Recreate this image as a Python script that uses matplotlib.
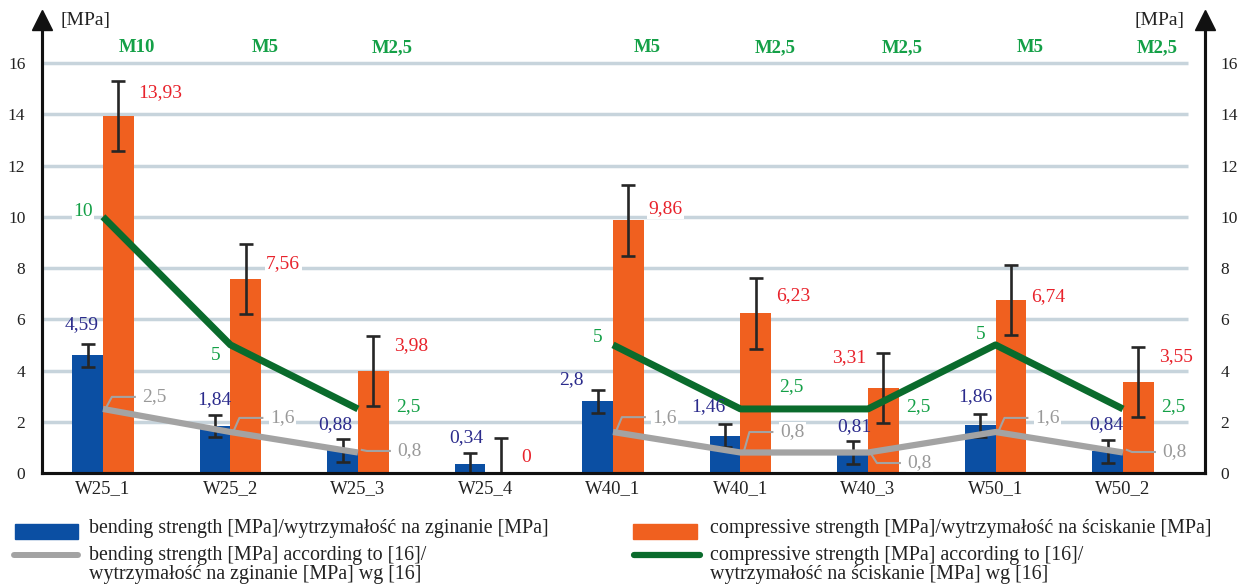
import numpy as np
import matplotlib.pyplot as plt
from matplotlib.patches import Rectangle
from matplotlib.lines import Line2D

plt.rcParams['font.family'] = ['Liberation Serif', 'DejaVu Serif']

# Data
samples = ['W25_1', 'W25_2', 'W25_3', 'W25_4', 'W40_1', 'W40_1', 'W40_3', 'W50_1', 'W50_2']
bending = [4.59, 1.84, 0.88, 0.34, 2.8, 1.46, 0.81, 1.86, 0.84]
bending_err = [0.45, 0.42, 0.45, 0.44, 0.44, 0.44, 0.44, 0.44, 0.44]
compressive = [13.93, 7.56, 3.98, 0, 9.86, 6.23, 3.31, 6.74, 3.55]
compressive_err = [1.37, 1.37, 1.35, 1.37, 1.38, 1.38, 1.37, 1.37, 1.35]
bending_norm = [2.5, 1.6, 0.8, np.nan, 1.6, 0.8, 0.8, 1.6, 0.8]
compressive_norm = [10, 5, 2.5, np.nan, 5, 2.5, 2.5, 5, 2.5]
mortar_class = ['M10', 'M5', 'M2,5', '', 'M5', 'M2,5', 'M2,5', 'M5', 'M2,5']

# label placement tweaks (offsets in MPa / category units)
blue_dx = [-0.165, -0.13, -0.18, -0.15, -0.33, -0.25, -0.11, -0.16, -0.13]
blue_dy = [0.74, 0.59, 0.54, 0.62, 0.39, 0.7, 0.55, 0.67, 0.62]
red_dy = [0.9, 0.6, 1.0, 0.62, 0.44, 0.68, 1.2, 0.13, 1.0]
gray_dy = [0.47, 0.55, 0.06, 0, 0.58, 0.8, -0.41, 0.55, 0.02]
green_dy = [0.2, -0.4, 0.1, 0, 0.27, 0.86, 0.08, 0.39, 0.1]
green_side = ['l', 'l', 'r', '', 'l', 'r', 'r', 'l', 'r']

blue = '#0b4fa3'
orange = '#f0601f'
dgreen = '#0a6b2c'
lgreen = '#14a047'
gray = '#a3a3a3'
navy = '#2b2b8c'
red = '#e8222b'
ink = '#222222'

def fmt(v):
    return f'{v:g}'.replace('.', ',')

x = np.arange(len(samples))
w = 0.24

fig = plt.figure(figsize=(12.41, 5.84), dpi=100)
ax = fig.add_axes([42 / 1241, 111 / 584, 1163 / 1241, 453 / 584])

# grid lines
for t in range(2, 17, 2):
    ax.hlines(t, -0.48, 8.51, color='#c7d4dc', lw=2.5, zorder=0)

ax.bar(x - w / 2, bending, w, color=blue, zorder=2)
ax.bar(x + w / 2, compressive, w, color=orange, zorder=2)

b_lo = [min(e, v) for e, v in zip(bending_err, bending)]
c_lo = [min(e, v) for e, v in zip(compressive_err, compressive)]
ax.errorbar(x - w / 2, bending, yerr=[b_lo, bending_err], fmt='none',
            ecolor='#262626', elinewidth=1.9, capsize=5, capthick=1.9, zorder=3)
ax.errorbar(x + w / 2, compressive, yerr=[c_lo, compressive_err], fmt='none',
            ecolor='#262626', elinewidth=1.9, capsize=5, capthick=1.9, zorder=3)

ax.plot(x, bending_norm, color=gray, lw=4.5, zorder=4, solid_capstyle='butt')
ax.plot(x, compressive_norm, color=dgreen, lw=5, zorder=4, solid_capstyle='butt')

box = dict(facecolor='white', edgecolor='none', pad=1)
fs = 14
for i in range(len(samples)):
    ax.text(x[i] + blue_dx[i], bending[i] + bending_err[i] + blue_dy[i], fmt(bending[i]),
            color=navy, fontsize=fs, ha='center', va='center', zorder=6)
    if i == 6:
        ax.text(x[i] - 0.01, compressive[i] + red_dy[i], fmt(compressive[i]),
                color=red, fontsize=fs, ha='right', va='center', bbox=box, zorder=6)
    else:
        ax.text(x[i] + w + 0.04, compressive[i] + red_dy[i], fmt(compressive[i]),
                color=red, fontsize=fs, ha='left', va='center', bbox=box, zorder=6)
    if not np.isnan(bending_norm[i]):
        yl = bending_norm[i] + gray_dy[i]
        ax.plot([x[i] + 0.03, x[i] + 0.07, x[i] + 0.25],
                [bending_norm[i] + np.sign(gray_dy[i]) * 0.1, yl, yl],
                color=gray, lw=1.5, zorder=5)
        ax.text(x[i] + 0.31, yl, fmt(bending_norm[i]), color='#999999',
                fontsize=fs, ha='left', va='center', bbox=box, zorder=6)
    if green_side[i] == 'l':
        ax.text(x[i] - 0.08, compressive_norm[i] + green_dy[i], fmt(compressive_norm[i]),
                color=lgreen, fontsize=fs, ha='right', va='center', bbox=box, zorder=6)
    elif green_side[i] == 'r':
        ax.text(x[i] + 0.3, compressive_norm[i] + green_dy[i], fmt(compressive_norm[i]),
                color=lgreen, fontsize=fs, ha='left', va='center', bbox=box, zorder=6)
    if mortar_class[i]:
        ax.text(x[i] + 0.27, 16.6, mortar_class[i], color=lgreen, fontsize=13.5,
                fontweight='bold', ha='center', va='center')

ax.set_xlim(-0.478, 8.643)
ax.set_ylim(0, 17.68)
ax.set_xticks(x)
ax.set_xticklabels(samples, fontsize=13.5)
ax.set_yticks(range(0, 17, 2))
ax.tick_params(axis='both', length=0, colors=ink)
ax.tick_params(axis='y', pad=12, labelsize=12.5)
ax.tick_params(axis='x', pad=5)

ax2 = ax.twinx()
ax2.set_ylim(ax.get_ylim())
ax2.set_yticks(range(0, 17, 2))
ax2.tick_params(axis='y', length=0, labelsize=12.5, pad=11, colors=ink)

for a in (ax, ax2):
    a.spines['top'].set_visible(False)
    for s in ('left', 'right', 'bottom'):
        a.spines[s].set_linewidth(2.2)
        a.spines[s].set_color('#111111')

# axis arrows
for xa in (0, 1):
    ax.plot([xa], [1.0], marker='^', markersize=14, color='#111111',
            transform=ax.transAxes, clip_on=False, zorder=10)
fig.text(60 / 1241, 1 - 20 / 584, '[MPa]', fontsize=14, ha='left', va='center', color=ink)
fig.text(1184 / 1241, 1 - 20 / 584, '[MPa]', fontsize=14, ha='right', va='center', color=ink)

# legend drawn by hand
H = 584.0
W = 1241.0
fig.patches.append(Rectangle((15 / W, 1 - 539 / H), 63 / W, 15 / H,
                             transform=fig.transFigure, color=blue))
fig.patches.append(Rectangle((633 / W, 1 - 539 / H), 64 / W, 15 / H,
                             transform=fig.transFigure, color=orange))
fig.lines.append(Line2D([14 / W, 78 / W], [1 - 555 / H] * 2, transform=fig.transFigure,
                        color=gray, lw=4.3, solid_capstyle='round'))
fig.lines.append(Line2D([634 / W, 700 / W], [1 - 555 / H] * 2, transform=fig.transFigure,
                        color=dgreen, lw=4.5, solid_capstyle='round'))
lfs = 14.4
fig.text(89 / W, 1 - 528 / H, 'bending strength [MPa]/wytrzymałość na zginanie [MPa]',
         fontsize=lfs, va='center', color=ink)
fig.text(710 / W, 1 - 528 / H, 'compressive strength [MPa]/wytrzymałość na ściskanie [MPa]',
         fontsize=lfs, va='center', color=ink)
fig.text(89 / W, 1 - 565 / H, 'bending strength [MPa] according to [16]/\nwytrzymałość na zginanie [MPa] wg [16]',
         fontsize=lfs, va='center', color=ink, linespacing=0.95)
fig.text(710 / W, 1 - 565 / H, 'compressive strength [MPa] according to [16]/\nwytrzymałość na ściskanie [MPa] wg [16]',
         fontsize=lfs, va='center', color=ink, linespacing=0.95)

fig.savefig('out.png', dpi=100)
